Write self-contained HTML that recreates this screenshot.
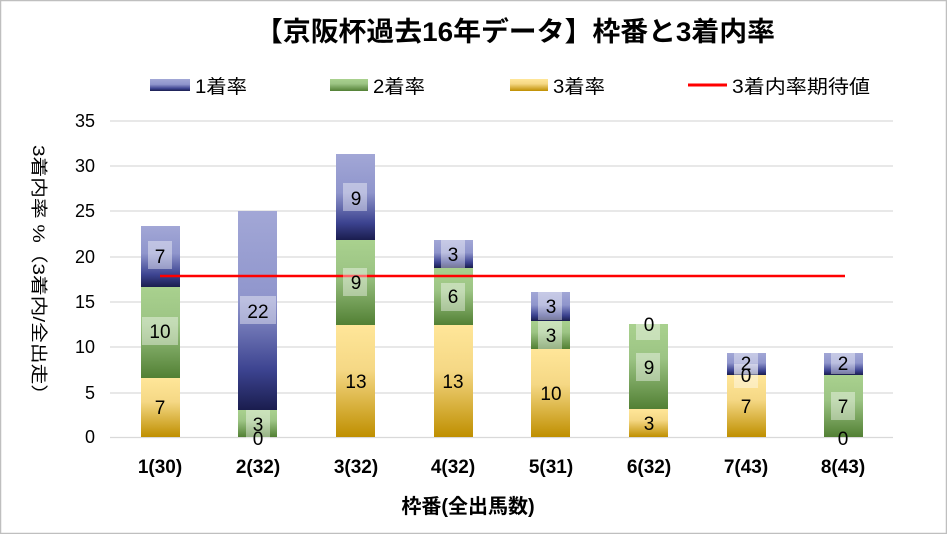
<!DOCTYPE html>
<html><head><meta charset="utf-8"><style>
body{margin:0;background:#fff}
svg{display:block;font-family:"Liberation Sans","Noto Sans CJK JP",sans-serif}
</style></head><body>
<svg width="947" height="534" viewBox="0 0 947 534" xmlns="http://www.w3.org/2000/svg">
<defs>
<linearGradient id="gb" x1="0" y1="0" x2="0" y2="1"><stop offset="0" stop-color="#a2a7d6"/><stop offset="0.45" stop-color="#8f95cc"/><stop offset="0.8" stop-color="#3c4390"/><stop offset="1" stop-color="#1a1d4e"/></linearGradient>
<linearGradient id="gg" x1="0" y1="0" x2="0" y2="1"><stop offset="0" stop-color="#a9d18e"/><stop offset="0.4" stop-color="#9cc484"/><stop offset="1" stop-color="#528034"/></linearGradient>
<linearGradient id="gy" x1="0" y1="0" x2="0" y2="1"><stop offset="0" stop-color="#ffe699"/><stop offset="0.4" stop-color="#f5d885"/><stop offset="1" stop-color="#bf8f00"/></linearGradient>
</defs>
<rect x="0.5" y="0.5" width="946" height="533" fill="#fff" stroke="#bfbfbf" stroke-width="1.5"/>
<text x="515" y="41" font-size="27" font-weight="bold" text-anchor="middle" textLength="520" lengthAdjust="spacingAndGlyphs">【京阪杯過去16年データ】枠番と3着内率</text>
<!-- legend -->
<rect x="150" y="79" width="40" height="12" fill="url(#gb)"/><text x="195" y="93" font-size="19" textLength="52" lengthAdjust="spacingAndGlyphs">1着率</text>
<rect x="330" y="79" width="38" height="12" fill="url(#gg)"/><text x="373" y="93" font-size="19" textLength="52" lengthAdjust="spacingAndGlyphs">2着率</text>
<rect x="510" y="79" width="38" height="12" fill="url(#gy)"/><text x="553" y="93" font-size="19" textLength="52" lengthAdjust="spacingAndGlyphs">3着率</text>
<line x1="688" y1="85" x2="727" y2="85" stroke="#f00" stroke-width="3"/><text x="732" y="93" font-size="19" textLength="138" lengthAdjust="spacingAndGlyphs">3着内率期待値</text>
<!-- grid -->
<g stroke="#d9d9d9" stroke-width="1.2">
<line x1="110" y1="121" x2="893" y2="121"/><line x1="110" y1="166" x2="893" y2="166"/><line x1="110" y1="211" x2="893" y2="211"/><line x1="110" y1="257" x2="893" y2="257"/><line x1="110" y1="302" x2="893" y2="302"/><line x1="110" y1="347" x2="893" y2="347"/><line x1="110" y1="393" x2="893" y2="393"/><line x1="110" y1="437.5" x2="893" y2="437.5"/>
</g>
<g font-size="18" text-anchor="end">
<text x="95" y="127">35</text><text x="95" y="172">30</text><text x="95" y="217">25</text><text x="95" y="263">20</text><text x="95" y="308">15</text><text x="95" y="353">10</text><text x="95" y="399">5</text><text x="95" y="443">0</text>
</g>
<text transform="translate(33,275) rotate(90)" font-size="17" text-anchor="middle" textLength="260" lengthAdjust="spacingAndGlyphs">3着内率 %（3着内/全出走）</text>
<!-- bars -->
<g>
<rect x="141" y="378" width="39" height="59" fill="url(#gy)"/><rect x="141" y="287" width="39" height="91" fill="url(#gg)"/><rect x="141" y="226" width="39" height="61" fill="url(#gb)"/>
<rect x="238" y="410" width="39" height="27" fill="url(#gg)"/><rect x="238" y="211" width="39" height="199" fill="url(#gb)"/>
<rect x="336" y="325" width="39" height="112" fill="url(#gy)"/><rect x="336" y="240" width="39" height="85" fill="url(#gg)"/><rect x="336" y="154" width="39" height="86" fill="url(#gb)"/>
<rect x="434" y="325" width="39" height="112" fill="url(#gy)"/><rect x="434" y="268" width="39" height="57" fill="url(#gg)"/><rect x="434" y="240" width="39" height="28" fill="url(#gb)"/>
<rect x="531" y="349" width="39" height="88" fill="url(#gy)"/><rect x="531" y="321" width="39" height="28" fill="url(#gg)"/><rect x="531" y="292" width="39" height="29" fill="url(#gb)"/>
<rect x="629" y="409" width="39" height="28" fill="url(#gy)"/><rect x="629" y="324" width="39" height="85" fill="url(#gg)"/>
<rect x="727" y="375" width="39" height="62" fill="url(#gy)"/><rect x="727" y="353" width="39" height="22" fill="url(#gb)"/>
<rect x="824" y="375" width="39" height="62" fill="url(#gg)"/><rect x="824" y="353" width="39" height="22" fill="url(#gb)"/>
</g>
<line x1="160" y1="276" x2="845" y2="276" stroke="#f00" stroke-width="2.5"/>
<!-- labels -->
<g font-size="19" text-anchor="middle">
<g fill="#fff" fill-opacity="0.4">
<rect x="148" y="241" width="24" height="28"/><rect x="142" y="317" width="36" height="28"/>
<rect x="240" y="296" width="36" height="28"/><rect x="246" y="410" width="24" height="28"/>
<rect x="343" y="183" width="24" height="28"/><rect x="343" y="268" width="24" height="28"/>
<rect x="441" y="240" width="24" height="28"/><rect x="441" y="283" width="24" height="28"/>
<rect x="538" y="292" width="24" height="28"/><rect x="538" y="321" width="24" height="28"/>
<rect x="636" y="312" width="24" height="28"/><rect x="636" y="353" width="24" height="28"/>
<rect x="734" y="350" width="24" height="24"/><rect x="734" y="364" width="24" height="24"/>
<rect x="831" y="350" width="24" height="24"/><rect x="831" y="392" width="24" height="28"/>
</g>
<text x="160" y="263">7</text><text x="160" y="338">10</text><text x="160" y="414">7</text>
<text x="258" y="318">22</text><text x="258" y="431">3</text><text x="258" y="445">0</text>
<text x="356" y="205">9</text><text x="356" y="289">9</text><text x="356" y="388">13</text>
<text x="453" y="261">3</text><text x="453" y="303">6</text><text x="453" y="388">13</text>
<text x="551" y="313">3</text><text x="551" y="342">3</text><text x="551" y="400">10</text>
<text x="649" y="331">0</text><text x="649" y="374">9</text><text x="649" y="430">3</text>
<text x="746" y="370">2</text><text x="746" y="382">0</text><text x="746" y="413">7</text>
<text x="843" y="370">2</text><text x="843" y="413">7</text><text x="843" y="445">0</text>
</g>
<g font-size="19" font-weight="bold" text-anchor="middle">
<text x="160" y="473">1(30)</text><text x="258" y="473">2(32)</text><text x="356" y="473">3(32)</text><text x="453" y="473">4(32)</text><text x="551" y="473">5(31)</text><text x="649" y="473">6(32)</text><text x="746" y="473">7(43)</text><text x="843" y="473">8(43)</text>
</g>
<text x="468" y="513" font-size="20" font-weight="bold" text-anchor="middle">枠番(全出馬数)</text>
</svg>
</body></html>
